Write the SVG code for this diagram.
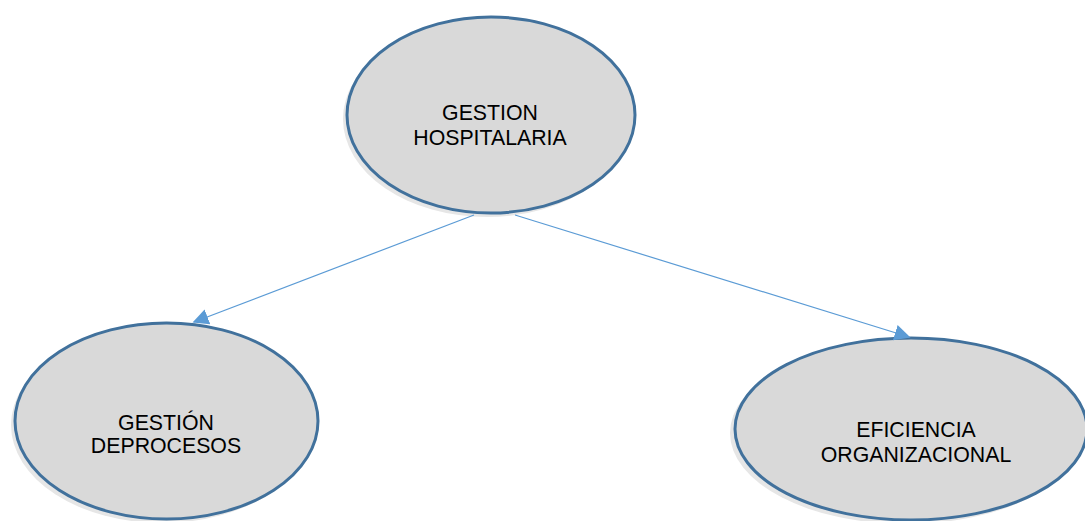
<svg xmlns="http://www.w3.org/2000/svg" width="1085" height="521" viewBox="0 0 1085 521">
  <defs>
    <style>
      .node { fill: #d9d9d9; stroke: #41719c; stroke-width: 3; }
      .shadow { fill: #e6e6e6; }
      .label { font-family: "Liberation Sans", Arial, sans-serif; font-size: 21.3px; fill: #000; text-anchor: middle; }
      .link { stroke: #5b9bd5; stroke-width: 1.2; fill: none; }
    </style>
    <marker id="arrow" viewBox="0 0 10 10" refX="9" refY="5" markerWidth="16" markerHeight="16" markerUnits="userSpaceOnUse" orient="auto">
      <path d="M0,0 L10,5 L0,10 z" fill="#5b9bd5"/>
    </marker>
  </defs>
  <rect width="1085" height="521" fill="#ffffff"/>

  <g id="node-gestion-hospitalaria">
    <ellipse class="shadow" cx="487" cy="119" rx="144" ry="98"/>
    <ellipse class="node" cx="491" cy="115" rx="144" ry="98"/>
    <text class="label" x="490" y="120">GESTION</text>
    <text class="label" x="490" y="145">HOSPITALARIA</text>
  </g>

  <g id="node-gestion-procesos">
    <ellipse class="shadow" cx="162" cy="425" rx="151" ry="98"/>
    <ellipse class="node" cx="166.5" cy="421" rx="151.5" ry="98"/>
    <text class="label" x="166" y="430">GESTIÓN</text>
    <text class="label" x="166" y="453">DEPROCESOS</text>
  </g>

  <g id="node-eficiencia">
    <ellipse class="shadow" cx="906" cy="433" rx="176" ry="91"/>
    <ellipse class="node" cx="911" cy="429" rx="176" ry="91"/>
    <text class="label" x="916" y="437">EFICIENCIA</text>
    <text class="label" x="916" y="462">ORGANIZACIONAL</text>
  </g>

  <g id="connectors">
    <line class="link" x1="474" y1="215" x2="194" y2="322" marker-end="url(#arrow)"/>
    <line class="link" x1="515" y1="215" x2="909" y2="337" marker-end="url(#arrow)"/>
  </g>
</svg>
